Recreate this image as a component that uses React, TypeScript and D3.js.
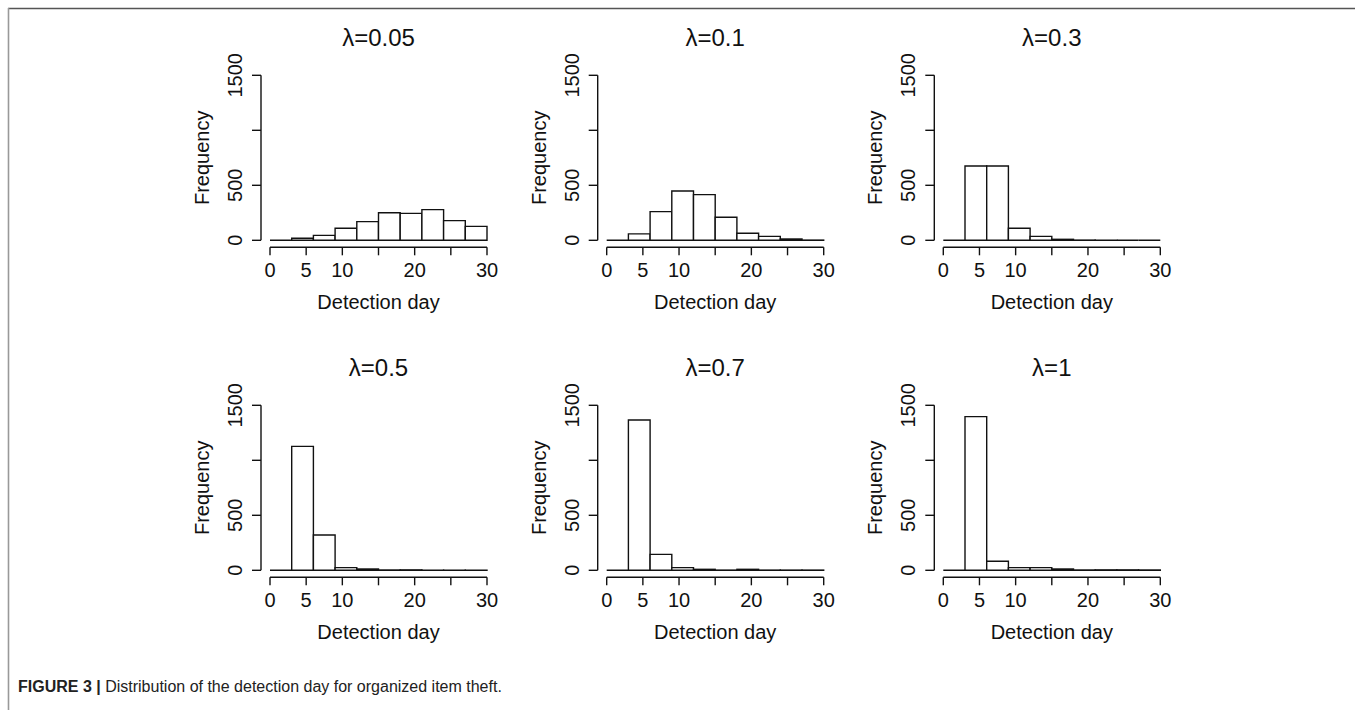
import React, { useEffect, useRef } from 'react';
import * as d3 from 'd3';

// bin edges of the detection-day histograms (width 3 days)
const binEdges = [0, 3, 6, 9, 12, 15, 18, 21, 24, 27, 30];

const lambdas = ['0.05', '0.1', '0.3', '0.5', '0.7', '1'];

// counts per bin
const counts005 = [0, 18, 45, 109, 170, 251, 245, 279, 179, 127];
const counts01 = [0, 58, 261, 448, 415, 209, 64, 36, 12, 2];
const counts03 = [0, 676, 676, 109, 36, 9, 2, 1, 0, 0];
const counts05 = [0, 1127, 321, 24, 12, 3, 4, 1, 1, 1];
const counts07 = [0, 1367, 145, 24, 9, 2, 9, 2, 2, 2];
const counts1 = [0, 1397, 82, 24, 24, 12, 3, 4, 4, 3];

// R drops labels that would overlap (15, 25 and 1000)
const xTicks = [0, 5, 10, 15, 20, 25, 30];
const xTickLabels = ['0', '5', '10', '', '20', '', '30'];
const yTicks = [0, 500, 1000, 1500];
const yTickLabels = ['0', '500', '', '1500'];

const allCounts = [counts005, counts01, counts03, counts05, counts07, counts1];

const FONT = "'Liberation Sans', Arial, Helvetica, sans-serif";

const App: React.FC = () => {
  const svgRef = useRef<SVGSVGElement>(null);

  useEffect(() => {
    if (!svgRef.current) return;
    const svg = d3.select(svgRef.current);
    svg.selectAll('*').remove();

    // figure frame (top and left rules)
    svg.append('line')
      .attr('x1', 8).attr('y1', 8.5).attr('x2', 1355).attr('y2', 8.5)
      .attr('stroke', '#555').attr('stroke-width', 1.6);
    svg.append('line')
      .attr('x1', 8.5).attr('y1', 8).attr('x2', 8.5).attr('y2', 710)
      .attr('stroke', '#999').attr('stroke-width', 1.6);

    const colX = [270, 606.7, 943.3];
    const rowY = [240.3, 570.3];
    const plotW = 217;
    const plotH = 165;

    allCounts.forEach((counts, i) => {
      const x0 = colX[i % 3];
      const y0 = rowY[Math.floor(i / 3)];
      const x = d3.scaleLinear().domain([0, 30]).range([x0, x0 + plotW]);
      const y = d3.scaleLinear().domain([0, 1500]).range([y0, y0 - plotH]);
      const g = svg.append('g');

      // bars
      g.selectAll('.bar')
        .data(counts)
        .enter()
        .append('path')
        .attr('class', 'bar')
        .attr('d', (d, k) => {
          const a = x(binEdges[k]);
          const b = x(binEdges[k + 1]);
          return `M${a},${y(0)}V${y(d)}H${b}V${y(0)}Z`;
        })
        .attr('fill', '#fff')
        .attr('stroke', '#111')
        .attr('stroke-width', 1.4);

      // x axis
      const xa = y0 + 7;
      g.append('line')
        .attr('x1', x(0)).attr('x2', x(30)).attr('y1', xa).attr('y2', xa)
        .attr('stroke', '#111').attr('stroke-width', 1.4);
      xTicks.forEach((t, k) => {
        g.append('line')
          .attr('x1', x(t)).attr('x2', x(t)).attr('y1', xa).attr('y2', xa + 8)
          .attr('stroke', '#111').attr('stroke-width', 1.4);
        if (xTickLabels[k]) {
          g.append('text')
            .attr('x', x(t)).attr('y', y0 + 37)
            .attr('text-anchor', 'middle')
            .attr('font-family', FONT).attr('font-size', 20).attr('fill', '#111')
            .text(xTickLabels[k]);
        }
      });
      g.append('text')
        .attr('x', (x(0) + x(30)) / 2).attr('y', y0 + 69)
        .attr('text-anchor', 'middle')
        .attr('font-family', FONT).attr('font-size', 20).attr('fill', '#111')
        .text('Detection day');

      // y axis
      const ya = x0 - 9;
      g.append('line')
        .attr('x1', ya).attr('x2', ya).attr('y1', y(0)).attr('y2', y(1500))
        .attr('stroke', '#111').attr('stroke-width', 1.4);
      yTicks.forEach((t, k) => {
        g.append('line')
          .attr('x1', ya).attr('x2', ya - 9).attr('y1', y(t)).attr('y2', y(t))
          .attr('stroke', '#111').attr('stroke-width', 1.4);
        if (yTickLabels[k]) {
          g.append('text')
            .attr('transform', `translate(${ya - 19},${y(t)}) rotate(-90)`)
            .attr('text-anchor', 'middle')
            .attr('font-family', FONT).attr('font-size', 20).attr('fill', '#111')
            .text(yTickLabels[k]);
        }
      });
      g.append('text')
        .attr('transform', `translate(${ya - 52},${(y(0) + y(1500)) / 2}) rotate(-90)`)
        .attr('text-anchor', 'middle')
        .attr('font-family', FONT).attr('font-size', 20).attr('fill', '#111')
        .text('Frequency');

      // panel title
      g.append('text')
        .attr('x', (x(0) + x(30)) / 2).attr('y', y0 - 194)
        .attr('text-anchor', 'middle')
        .attr('font-family', FONT).attr('font-size', 24).attr('fill', '#111')
        .text(`λ=${lambdas[i]}`);
    });

    // caption
    const cap = svg.append('text')
      .attr('x', 18).attr('y', 692)
      .attr('font-family', FONT).attr('font-size', 16).attr('fill', '#222');
    cap.append('tspan').attr('font-weight', 'bold').text('FIGURE 3 | ');
    cap.append('tspan').text('Distribution of the detection day for organized item theft.');
  }, []);

  return (
    <div style={{ position: 'absolute', left: 0, top: 0, width: 1355, height: 710, background: '#fff' }}>
      <svg ref={svgRef} width={1355} height={710} style={{ display: 'block' }} />
    </div>
  );
};

export default App;
